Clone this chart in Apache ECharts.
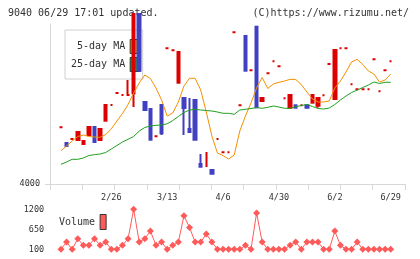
<!DOCTYPE html>
<html><head><meta charset="utf-8">
<script src="https://cdn.jsdelivr.net/npm/echarts@6/dist/echarts.min.js"></script>
<style>html,body{margin:0;padding:0;background:#fff}#c{width:420px;height:259px}</style>
</head><body><div id="c"></div>
<script>
// x category labels (only the labelled dates are known)
const xLabels = [
  '', '', '', '', '', '', '', '', '', '2/26',
  '', '', '', '', '', '', '', '', '', '3/13',
  '', '', '', '', '', '', '', '', '', '4/6',
  '', '', '', '', '', '', '', '', '', '4/30',
  '', '', '', '', '', '', '', '', '', '6/2',
  '', '', '', '', '', '', '', '', '', '6/29'
];
// candles: [open, close, low, high]
const candles = [
  [4567,4567,4567,4567],[4410,4380,4380,4410],[4450,4450,4450,4450],[4440,4520,4440,4520],[4400,4430,4400,4430],
  [4490,4570,4490,4570],[4570,4420,4420,4570],[4440,4550,4440,4550],[4633,4790,4633,4790],[4790,4790,4790,4790],
  [4910,4910,4910,4910],[4890,4890,4890,4890],[4890,4890,4890,5040],[4907,5700,4770,5700],[5700,5133,5133,5700],
  [4820,4740,4740,4820],[4750,4443,4443,4750],[4477,4477,4477,4477],[4790,4507,4490,4790],[5357,5357,5357,5357],
  [5337,5337,5337,5337],[5013,5320,5013,5320],[4860,4760,4490,4860],[4550,4520,4520,4860],[4840,4443,4443,4840],
  [4200,4173,4173,4300],[4180,4180,4180,4320],[4140,4103,4103,4140],[4450,4450,4450,4450],[4317,4317,4317,4317],
  [4317,4317,4317,4317],[5517,5517,5517,5517],[4787,4787,4787,4787],[5480,5133,5133,5480],[5137,5137,5137,5137],
  [5573,4767,4767,5573],[4830,4860,4830,4860],[5107,5107,5107,5107],[5227,5227,5227,5227],[5177,5177,5177,5177],
  [4857,4857,4857,4857],[4763,4890,4763,4890],[4787,4763,4763,4787],[4787,4787,4787,4787],[4787,4763,4763,4787],
  [4813,4890,4813,4890],[4783,4860,4763,4860],[4887,4887,4887,4887],[5200,5200,5200,5200],[4850,5340,4850,5340],
  [5357,5357,5357,5357],[5357,5357,5357,5357],[4997,4997,4997,4997],[4947,4947,4947,4947],[4947,4947,4947,4947],
  [4947,4947,4947,4947],[5247,5247,5247,5247],[4927,4927,4927,4927],[5137,5137,5137,5137],[5227,5227,5227,5227]
];
const ma5 = [
  4333,4380,4430,4475,4490,4475,4470,4467,4495,4550,
  4630,4705,4795,4910,5010,5090,5055,4960,4840,4680,
  4710,4820,4980,5057,5057,4940,4720,4480,4310,4283,
  4250,4290,4530,4680,4810,4960,5065,4955,5000,5017,
  5030,5047,5045,4995,4920,4850,4820,4820,4830,4960,
  5030,5120,5220,5247,5195,5130,5100,5020,5040,5100
];
const ma25 = [
  4197,4220,4247,4247,4260,4285,4293,4300,4315,4350,
  4385,4420,4447,4475,4530,4565,4580,4587,4590,4602,
  4635,4675,4715,4740,4747,4740,4735,4730,4720,4707,
  4707,4697,4740,4747,4755,4765,4757,4767,4780,4770,
  4757,4757,4773,4785,4795,4775,4755,4750,4760,4795,
  4840,4880,4915,4940,4965,4990,5020,5005,5017,5017
];
const volume = [
  100,300,100,390,210,210,390,210,300,100,
  100,210,390,1200,300,390,600,210,300,100,
  210,300,1020,700,300,300,520,300,100,100,
  100,100,100,210,100,1100,300,100,100,100,
  100,210,300,100,300,300,300,100,100,600,
  210,100,100,300,100,100,100,100,100,100
];
const priceTicks = [4000];
const volTicks = [100, 650, 1200];

const font = '"DejaVu Sans Mono", monospace';
const RED = '#dd0000', BLUE = '#4040c0', ORANGE = '#f59000', GREEN = '#20a020', VOL = '#ff5a5a', AX = '#d8d8d8', TXT = '#333';
const chart = echarts.init(document.getElementById('c'), null, {renderer: 'canvas', width: 420, height: 259});
const small = {fontFamily: font, fontSize: 8.5, color: TXT, formatter: v => String(v)};
chart.setOption({
  animation: false,
  backgroundColor: '#fff',
  title: [
    {text: '9040 06/29 17:01 updated.', left: 8, top: 8, padding: 0,
     textStyle: {fontFamily: font, fontSize: 10, fontWeight: 'normal', color: TXT}},
    {text: '(C)https://www.rizumu.net/', right: 11, top: 8, padding: 0,
     textStyle: {fontFamily: font, fontSize: 10, fontWeight: 'normal', color: TXT}}
  ],
  legend: [
    {z: 0, data: ['5-day MA', '25-day MA'], orient: 'vertical', align: 'right', left: 65, top: 30,
     padding: [9, 2, 7, 6], itemGap: 3, itemWidth: 10, itemHeight: 14, icon: 'rect',
     backgroundColor: '#fff', borderColor: '#d0d0d0', borderWidth: 1, selectedMode: false,
     textStyle: {fontFamily: font, fontSize: 10, color: TXT},
     itemStyle: {borderColor: '#333', borderWidth: 1}},
    {data: ['Volume'], orient: 'vertical', align: 'right', left: 59, top: 214, padding: 0,
     itemWidth: 6, itemHeight: 15, icon: 'rect', selectedMode: false,
     textStyle: {fontFamily: font, fontSize: 10, color: TXT},
     itemStyle: {borderColor: '#333', borderWidth: 1}}
  ],
  grid: [
    {left: 50, right: 15, top: 24, bottom: 75},
    {left: 58.2, right: 26.5, top: 24, bottom: 75},
    {left: 58.2, right: 26.5, top: 209.3, bottom: 9.7}
  ],
  xAxis: [
    {gridIndex: 0, type: 'value', min: 0, max: 11, interval: 1,
     axisLine: {show: true, onZero: false, lineStyle: {color: AX}},
     axisTick: {show: true, length: 6, lineStyle: {color: AX}},
     axisLabel: {show: false}, splitLine: {show: false}},
    {gridIndex: 1, type: 'category', data: xLabels, boundaryGap: true,
     axisLine: {show: false}, axisTick: {show: false},
     axisLabel: {interval: 0, margin: 9, fontFamily: font, fontSize: 8.5, color: TXT}, splitLine: {show: false}},
    {gridIndex: 2, type: 'category', data: xLabels, boundaryGap: true, show: false}
  ],
  yAxis: [
    {gridIndex: 0, type: 'value', min: 4000, max: 5600,
     axisLine: {show: true, onZero: false, lineStyle: {color: AX}},
     axisTick: {show: true, length: 5, customValues: priceTicks, lineStyle: {color: AX}},
     axisLabel: Object.assign({customValues: priceTicks, margin: 10}, small),
     splitLine: {show: false}},
    {gridIndex: 1, type: 'value', min: 4000, max: 5600, show: false},
    {gridIndex: 2, type: 'value', min: 100, max: 1200,
     axisLine: {show: false}, axisTick: {show: false},
     axisLabel: Object.assign({customValues: volTicks, margin: 14}, small),
     splitLine: {show: false}}
  ],
  series: [
    {name: 'Price', type: 'candlestick', xAxisIndex: 1, yAxisIndex: 1, data: candles, barWidth: 3, z: 6, clip: true,
     itemStyle: {color: RED, color0: BLUE, borderColor: RED, borderColor0: BLUE, borderColorDoji: RED, borderWidth: 2}},
    {name: '5-day MA', type: 'line', xAxisIndex: 1, yAxisIndex: 1, data: ma5, symbol: 'none', z: 7,
     lineStyle: {color: ORANGE, width: 1}, itemStyle: {color: ORANGE}},
    {name: '25-day MA', type: 'line', xAxisIndex: 1, yAxisIndex: 1, data: ma25, symbol: 'none', z: 7,
     lineStyle: {color: GREEN, width: 1}, itemStyle: {color: GREEN}},
    {name: 'Volume', type: 'line', xAxisIndex: 2, yAxisIndex: 2, data: volume, symbol: 'diamond', symbolSize: 7,
     showAllSymbol: true, lineStyle: {color: VOL, width: 1}, itemStyle: {color: VOL}}
  ]
});
</script></body></html>
